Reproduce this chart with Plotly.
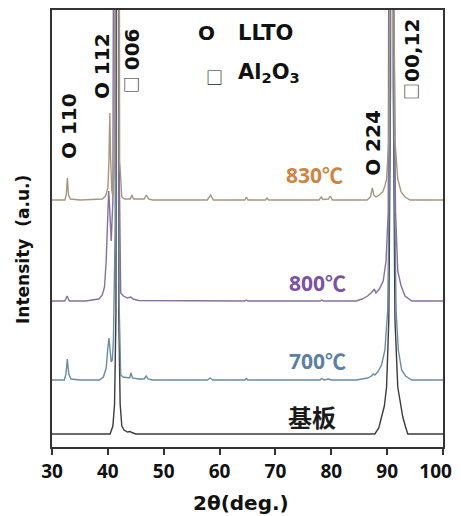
import plotly.graph_objects as go

# ---------------- data (2θ in degrees, intensity in arbitrary units above each baseline) ----------------
sub_x = [30, 40.4, 40.9, 41.2, 41.45, 41.7, 41.95, 42.2, 42.5, 42.9, 43.5, 44.0, 44.3, 45.0,
         87.8, 88.5, 89.0, 89.5, 89.9, 90.3, 90.6, 90.85, 91.1, 91.4, 91.9, 92.4, 92.8, 93.3, 93.7, 100]
sub_y = [0, 0, 8, 30, 120, 2000, 120, 30, 8, 4, 2, 2.5, 1.5, 0,
         0, 6, 17, 28, 47, 114, 350, 2000, 350, 114, 47, 28, 17, 7, 0, 0]

t700_x = [30, 32.2, 32.5, 32.75, 33.0, 33.4, 35, 38.5, 39.2, 39.7, 40.0, 40.2, 40.4, 40.6, 40.8, 41.0, 41.3,
          41.7, 42.0, 42.3, 42.7, 43.5, 43.9, 44.15, 44.4, 45.5, 46.5, 46.85, 47.2, 48, 57.8, 58.3, 58.8,
          64.5, 64.8, 65.1, 78, 78.3, 78.7, 79.5, 80, 84.5, 85.5, 86.5, 87.2, 87.5, 87.8, 88.3, 89.0, 89.6,
          90.1, 90.5, 90.85, 91.2, 91.6, 92.0, 92.6, 93.3, 94.4, 100]
t700_y = [0, 0, 6, 21, 6, 1, 0, 0, 3, 12, 32, 42, 30, 18, 20, 40, 150,
          2000, 80, 5, 3, 2, 2, 7, 2, 1, 1, 4, 1, 0, 0, 2, 0,
          0, 1.5, 0, 0, 1.5, 0, 1, 0, 0, 1, 2, 4, 6, 5, 8, 15, 30,
          70, 250, 2000, 250, 70, 30, 10, 4, 0, 0]

t800_x = [30, 32.3, 32.7, 33.1, 36, 38.4, 39.0, 39.4, 39.7, 40.0, 40.15, 40.35, 40.6, 40.9, 41.3,
          41.7, 42.0, 42.3, 42.8, 43.5, 44.1, 44.5, 45.5, 46.8, 50, 64.5, 64.8, 65.1, 78, 78.3, 78.6,
          84.5, 85.5, 86.5, 87.3, 87.7, 88.0, 88.6, 89.3, 89.8, 90.2, 90.5, 90.85, 91.2, 91.5, 91.9,
          92.5, 93.2, 93.8, 94.4, 100]
t800_y = [0, 0, 5, 0, 0, 2, 6, 14, 40, 90, 110, 90, 60, 100, 300,
          2000, 150, 8, 5, 3, 4, 2, 0.5, 0.5, 0, 0, 1, 0, 0, 1, 0,
          0, 2, 5, 9, 12, 8, 12, 20, 40, 90, 300, 2000, 300, 90, 30,
          15, 5, 2, 0, 0]

t830_x = [30, 32.3, 32.55, 32.75, 32.95, 33.3, 35, 39.0, 39.6, 40.0, 40.2, 40.35, 40.5, 40.7, 40.9, 41.2,
          41.7, 42.1, 42.5, 43, 44.0, 44.3, 44.6, 46.5, 46.9, 47.3, 48, 57.8, 58.4, 58.9, 64.5, 64.8, 65.1,
          68.2, 68.5, 68.8, 77.8, 78.2, 78.5, 79.5, 79.8, 80.2, 86.4, 87.0, 87.35, 87.6, 88.0, 88.6, 89.2,
          89.6, 89.9, 90.3, 90.6, 90.85, 91.1, 91.4, 91.9, 92.5, 93.2, 94.1, 100]
t830_y = [0, 0, 5, 22, 5, 1, 0, 1, 4, 12, 40, 87, 40, 10, 3, 40,
          2000, 40, 3, 1, 1, 5, 1, 1, 5, 1, 0, 0, 5, 0, 0, 3, 0,
          0, 2, 0, 0, 3, 0.5, 1, 4, 0, 0, 3, 12, 5, 3, 5, 8,
          14, 21, 60, 300, 2000, 300, 60, 21, 8, 3, 0, 0]

series_names = ["基板", "700℃", "800℃", "830℃"]
series_x = [sub_x, t700_x, t800_x, t830_x]
series_y = [sub_y, t700_y, t800_y, t830_y]
offsets = [13, 67, 146, 247]
line_colors = ["#3c3c3c", "#6a8ca3", "#85709c", "#a8957f"]
label_colors = ["#1a1a1a", "#5b80a8", "#7a52a6", "#cf8440"]
label_sizes = [24, 21, 21, 21]
label_pos = [(76.5, 30), (77.6, 86), (77.6, 164), (77.0, 272)]

x_ticks = [30, 40, 50, 60, 70, 80, 90, 100]
x_tick_text = ["<b>30</b>", "<b>40</b>", "<b>50</b>", "<b>60</b>", "<b>70</b>", "<b>80</b>",
               "<b>90</b>", "<b>100</b>&nbsp;&nbsp;&nbsp;"]

peak_labels = ["O 110", "O 112", "006", "O 224", "00,12"]
peak_pos = [(33.05, 321), (38.97, 381), (44.36, 398), (87.44, 304), (94.44, 397)]
square_pos = [(44.0, 362), (94.1, 355), (59.1, 371)]   # □ symbols (Al2O3 reflections + legend)

# ---------------- figure ----------------
fig = go.Figure()
for name, xs, ys, off, col in zip(series_names, series_x, series_y, offsets, line_colors):
    fig.add_trace(go.Scatter(x=xs, y=[v + off for v in ys], mode="lines",
                             line=dict(color=col, width=1.4), name=name, showlegend=False))

bold_font = "DejaVu Sans"
ann = []
for txt, (px, py) in zip(peak_labels, peak_pos):
    ann.append(dict(x=px, y=py, text=f"<b>{txt}</b>", textangle=-90, showarrow=False,
                    xanchor="center", yanchor="middle",
                    font=dict(family=bold_font, size=20, color="#111")))
for i, (px, py) in enumerate(square_pos):
    ann.append(dict(x=px, y=py, text="□", textangle=-90 if i < 2 else 0, showarrow=False,
                    xanchor="center", yanchor="middle",
                    font=dict(family="Noto Sans CJK JP", size=17, color="#222")))
for name, (px, py), col, sz in zip(series_names, label_pos, label_colors, label_sizes):
    ann.append(dict(x=px, y=py, text=f"<b>{name}</b>", showarrow=False,
                    xanchor="center", yanchor="middle",
                    font=dict(family="Open Sans, Noto Sans CJK SC", size=sz, color=col)))
# legend-like marker texts
ann.append(dict(x=57.64, y=414, text="<b>O</b>", showarrow=False, xanchor="center", yanchor="middle",
                font=dict(family=bold_font, size=20, color="#111")))
ann.append(dict(x=63.0, y=414, text="<b>LLTO</b>", showarrow=False, xanchor="left", yanchor="middle",
                font=dict(family=bold_font, size=21, color="#111")))
ann.append(dict(x=63.0, y=374, text="<b>Al<sub>2</sub>O<sub>3</sub></b>", showarrow=False,
                xanchor="left", yanchor="middle",
                font=dict(family=bold_font, size=21, color="#111")))
# axis titles
ann.append(dict(x=-0.074, y=0.451, xref="paper", yref="paper", text="<b>Intensity  (a.u.)</b>",
                textangle=-90, showarrow=False, xanchor="center", yanchor="middle",
                font=dict(family=bold_font, size=17, color="#111")))
ann.append(dict(x=0.483, y=-0.128, xref="paper", yref="paper", text="<b>2θ(deg.)</b>",
                showarrow=False, xanchor="center", yanchor="middle",
                font=dict(family=bold_font, size=20, color="#111")))

# the page body has an 8 px margin, so the figure is sized/offset to compensate
fig.update_layout(
    width=453, height=508,
    margin=dict(l=44, r=18, t=2, b=69, autoexpand=False),
    paper_bgcolor="white", plot_bgcolor="white",
    annotations=ann,
    showlegend=False,
)
fig.update_xaxes(range=[30, 100], tickvals=x_ticks, ticktext=x_tick_text,
                 ticks="outside", ticklen=6, tickwidth=1.5, tickcolor="#333",
                 ticklabeloverflow="allow",
                 showline=True, linecolor="#333", linewidth=2, mirror=True,
                 showgrid=False, zeroline=False, automargin=False,
                 tickfont=dict(family="Open Sans", size=19, color="#111"))
fig.update_yaxes(range=[0, 437], showticklabels=False, ticks="",
                 showline=True, linecolor="#333", linewidth=2, mirror=True,
                 showgrid=False, zeroline=False, automargin=False)

fig.write_html("out.html")
